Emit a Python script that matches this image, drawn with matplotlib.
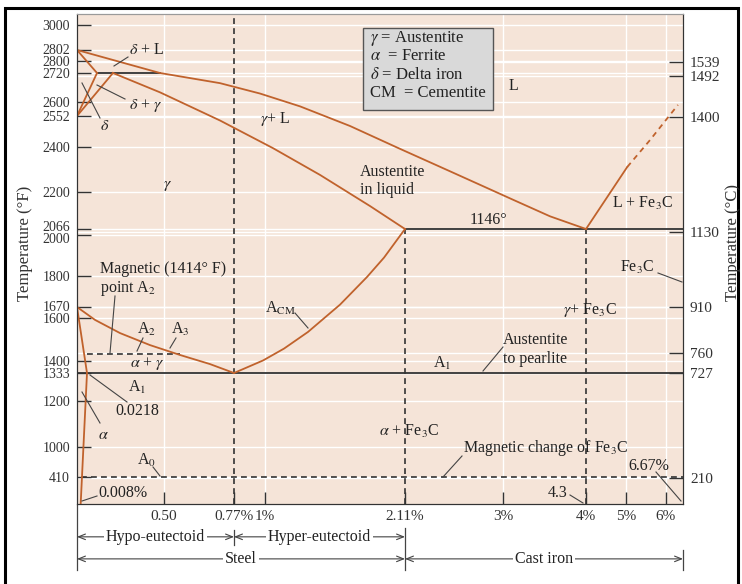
import numpy as np
import matplotlib
matplotlib.use('Agg')
import matplotlib.pyplot as plt
from matplotlib.lines import Line2D
from matplotlib.patches import Rectangle
from matplotlib.transforms import blended_transform_factory, ScaledTranslation

plt.rcParams['font.family'] = ['Liberation Serif', 'DejaVu Serif']
plt.rcParams['mathtext.fontset'] = 'stix'

W, H = 742, 584

# ---- axis ticks ----
F_TICKS = [3000, 2802, 2800, 2720, 2600, 2552, 2400, 2200, 2066, 2000,
           1800, 1670, 1600, 1400, 1333, 1200, 1000, 410]
C_TICKS = [1539, 1492, 1400, 1130, 910, 760, 727, 210]
X_TICKS = [0.5, 0.77, 1, 2.11, 3, 4.3, 5, 6]
X_LABELS = ['0.50', '0.77%', '1%', '2.11%', '3%', '4%', '5%', '6%']
X_GRID = [0.5, 1, 3, 5, 6]

# ---- phase boundaries (wt% C, deg F) ----
liq_c = [0, 0.475, 0.716, 0.963, 1.278, 1.674, 2.054, 2.519, 2.791, 3.157, 3.736, 4.3]
liq_f = [2802, 2720, 2678, 2635, 2585, 2503, 2396, 2292, 2232, 2172, 2112, 2066]
sol_c = [0.183, 0.475, 0.716, 1.063, 1.436, 1.833, 2.11]
sol_f = [2720, 2640, 2530, 2395, 2276, 2149, 2066]
delta_sol_c = [0, 0.084]
delta_sol_f = [2802, 2720]
delta_low_c = [0.084, 0]
delta_low_f = [2720, 2552]
gamma_top_c = [0.183, 0]
gamma_top_f = [2720, 2552]
peritectic_c = [0.084, 0.475]
peritectic_f = [2720, 2720]
a3_c = [0, 0.072, 0.227, 0.413, 0.562, 0.677, 0.77]
a3_f = [1670, 1590, 1522, 1460, 1412, 1383, 1333]
alpha_c = [0, 0.0218, 0.008]
alpha_f = [1670, 1333, 0]
acm_c = [0.77, 0.985, 1.151, 1.341, 1.595, 1.809, 1.944, 2.11]
acm_f = [1333, 1401, 1442, 1528, 1680, 1796, 1890, 2066]
fe3c_liq_c = [4.3, 5.03]
fe3c_liq_f = [2066, 2311]
fe3c_liq_dash_c = [5.03, 5.6, 6.47]
fe3c_liq_dash_f = [2311, 2434, 2590]
eutectic_c = [2.11, 6.67]
eutectic_f = 2066
eutectoid_c = [0, 6.67]
eutectoid_f = 1333
a2_c = [0.0218, 0.56]
a2_f = 1414
a0_c = [0.008, 6.67]
a0_f = 410
steel_c = 0.77
ledeb_c = [2.11, 4.3]

# schematic (non linear) scales of the printed diagram: value -> pixel row/column
XS_C = [0, 0.0218, 0.5, 0.77, 1, 2.11, 3, 4.3, 5, 6, 6.67]
XS_PX = [77, 87, 164, 234, 265, 405, 503, 586, 626, 666, 683]
YS_F = [0, 410, 1000, 1200, 1333, 1400, 1414, 1600, 1670, 1800, 2000, 2066,
        2200, 2400, 2552, 2600, 2720, 2800, 2802, 3000, 3100]
YS_PX = [504, 477, 447, 401, 373, 361, 354, 318, 307, 276, 235, 229,
         192, 147, 116, 102, 73, 61, 50, 25, 14]
F_MIN, F_MAX = 0, 3100
C_MIN, C_MAX = (F_MIN - 32) * 5 / 9, (F_MAX - 32) * 5 / 9
YS_C = [C_MIN, 210, 727, 760, 910, 1130, 1400, 1492, 1539, C_MAX]
YS_CPX = [504, 478, 373, 353, 307, 232, 117, 76, 62, 14]
# crowded left labels are nudged a little (pixels, up is +)
LABEL_NUDGE = {2802: 1, 1670: 1, 2066: 3, 2000: -3}


def fx(v):
    return np.interp(v, XS_C, XS_PX)


def fx_inv(v):
    return np.interp(v, XS_PX, XS_C)


def fy(v):
    return np.interp(v, YS_F, [H - p for p in YS_PX])


def fy_inv(v):
    return np.interp(v, [H - p for p in YS_PX], YS_F)


def fc(v):
    return np.interp(v, YS_C, [H - p for p in YS_CPX])


def fc_inv(v):
    return np.interp(v, [H - p for p in YS_CPX], YS_C)


ORANGE = '#c0622c'
DARK = '#333333'
BG = '#f5e4d8'

fig = plt.figure(figsize=(W / 100, H / 100), dpi=100)
ax = fig.add_axes([77 / W, 1 - 504 / H, (683 - 77) / W, (504 - 14) / H])
ax.set_xscale('function', functions=(fx, fx_inv))
ax.set_yscale('function', functions=(fy, fy_inv))
ax.set_xlim(0, 6.67)
ax.set_ylim(F_MIN, F_MAX)
ax.set_facecolor(BG)

ax2 = ax.twinx()
ax2.set_yscale('function', functions=(fc, fc_inv))
ax2.set_ylim(C_MIN, C_MAX)

# white grid (all drawn underneath the phase lines)
for x in X_GRID:
    ax.axvline(x, color='white', lw=1, zorder=1)
for t in F_TICKS:
    ax.axhline(t, color='white', lw=1, zorder=1)
c_tr = blended_transform_factory(ax.transAxes, ax2.transData)
for t in C_TICKS:
    ax.plot([0, 1], [t, t], transform=c_tr, color='white', lw=1, zorder=1)

# phase lines
for cs, fs in [(liq_c, liq_f), (sol_c, sol_f), (delta_sol_c, delta_sol_f),
               (delta_low_c, delta_low_f), (gamma_top_c, gamma_top_f),
               (a3_c, a3_f), (alpha_c, alpha_f), (acm_c, acm_f),
               (fe3c_liq_c, fe3c_liq_f)]:
    ax.plot(cs, fs, color=ORANGE, lw=1.3, zorder=3)
ax.plot(fe3c_liq_dash_c, fe3c_liq_dash_f, color=ORANGE, lw=1.3,
        ls=(0, (3, 2.5)), zorder=3)

ax.plot(peritectic_c, peritectic_f, color=DARK, lw=1.3, zorder=2)
ax.plot(eutectic_c, [eutectic_f] * 2, color=DARK, lw=1.3, zorder=2)
ax.plot(eutectoid_c, [eutectoid_f] * 2, color=DARK, lw=1.3, zorder=2)

dash = (0, (3.5, 2.5))
ax.plot([steel_c, steel_c], [F_MIN, F_MAX], color=DARK, lw=1.2, ls=dash, zorder=2)
for c in ledeb_c:
    ax.plot([c, c], [F_MIN, eutectic_f], color=DARK, lw=1.2, ls=dash, zorder=2)
ax.plot(a2_c, [a2_f] * 2, color=DARK, lw=1.2, ls=dash, zorder=2)
ax.plot(a0_c, [a0_f] * 2, color=DARK, lw=1.2, ls=dash, zorder=2)

# ticks & spines
ax.set_yticks(F_TICKS, labels=[str(t) for t in F_TICKS])
ax.set_xticks(X_TICKS, labels=X_LABELS)
ax.minorticks_off()
ax.tick_params(axis='y', direction='in', length=10, width=1, pad=5,
               labelsize=10, colors=DARK)
ax.tick_params(axis='x', direction='in', length=9, width=1, pad=4,
               labelsize=11, colors=DARK)
for t, lab in zip(F_TICKS, ax.get_yticklabels()):
    if t in LABEL_NUDGE:
        lab.set_transform(lab.get_transform() +
                          ScaledTranslation(0, LABEL_NUDGE[t] / 100, fig.dpi_scale_trans))
ax2.set_yticks(C_TICKS, labels=[str(c) for c in C_TICKS])
ax2.minorticks_off()
ax2.tick_params(axis='y', direction='in', length=10, width=1, pad=5,
                labelsize=11, colors=DARK)
for a in (ax, ax2):
    for s in ('left', 'bottom', 'right'):
        a.spines[s].set_color(DARK)
    a.spines['top'].set_color('#9a9a9a')

fig.text(25 / W, 1 - 243 / H, 'Temperature (°F)', rotation=90,
         ha='center', va='center', fontsize=12, color=DARK)
fig.text(733 / W, 1 - 243 / H, 'Temperature (°C)', rotation=90,
         ha='center', va='center', fontsize=12, color=DARK)


# ---- annotations (positioned in figure pixels) ----
def label(s, x, y, ha='center', size=11.5):
    fig.text(x / W, 1 - y / H, s, ha=ha, va='center', fontsize=size,
             color='#222222', zorder=5)


def leader(x0, y0, x1, y1):
    fig.add_artist(Line2D([x0 / W, x1 / W], [1 - y0 / H, 1 - y1 / H],
                          color='#444444', lw=0.8, zorder=5))


# legend box
fig.add_artist(Rectangle((363 / W, 1 - 110 / H), 130 / W, 82 / H,
                         transform=fig.transFigure, fc='#d9d9d9',
                         ec='#555555', lw=1, zorder=4))
label(r'$\gamma$ = Austentite', 370, 38, ha='left', size=12)
label(r'$\alpha$  = Ferrite', 370, 56, ha='left', size=12)
label(r'$\delta$ = Delta iron', 370, 75, ha='left', size=12)
label('CM  = Cementite', 370, 93, ha='left', size=12)

label(r'$\delta$ + L', 147, 50)
leader(114, 66, 128, 57)
label(r'$\delta$ + $\gamma$', 146, 106)
leader(97, 85, 125, 99)
label(r'$\delta$', 105, 126)
leader(82, 83, 100, 118)
label(r'$\gamma$+ L', 275, 119)
label(r'$\gamma$', 168, 185)
label('L', 513, 86)
label('Austentite', 360, 172, ha='left')
label('in liquid', 360, 190, ha='left')
label('1146°', 488, 220)
label(r'L + Fe$_3$C', 643, 203)
label(r'Fe$_3$C', 637, 267)
leader(658, 273, 682, 282)
label('Magnetic (1414° F)', 100, 269, ha='left')
label(r'point A$_2$', 100, 289, ha='left')
leader(115, 296, 110, 353)
label(r'A$_2$', 147, 329)
leader(143, 338, 137, 351)
label(r'A$_3$', 180, 329)
leader(176, 338, 170, 348)
label(r'$\alpha$ + $\gamma$', 147, 364)
label(r'A$_1$', 137, 387)
label('0.0218', 137, 411)
leader(90, 375, 127, 402)
label(r'$\alpha$', 103, 435)
leader(82, 392, 100, 423)
label(r'A$_0$', 147, 460)
leader(153, 467, 160, 476)
label('0.008%', 98, 493, ha='left')
leader(82, 501, 97, 496)
label(r'A$_{\rm CM}$', 280, 308)
leader(295, 313, 308, 328)
label(r'A$_1$', 442, 363)
label('Austentite', 503, 340, ha='left')
label('to pearlite', 503, 359, ha='left')
leader(503, 347, 483, 371)
label(r'$\alpha$ + Fe$_3$C', 409, 431)
label(r'$\gamma$+ Fe$_3$C', 590, 310)
label(r'Magnetic change of Fe$_3$C', 463, 448, ha='left')
leader(462, 456, 443, 477)
label('6.67%', 628, 466, ha='left')
leader(656, 472, 681, 501)
label('4.3', 548, 493, ha='left')
leader(570, 495, 583, 503)

# ---- composition ranges under the axis ----
xt = ax.get_xaxis_transform()


def span(c0, c1, yf, text):
    ax.annotate('', xy=(c0, yf), xytext=(c1, yf),
                xycoords=('data', 'axes fraction'),
                textcoords=('data', 'axes fraction'),
                arrowprops=dict(arrowstyle='<->,head_length=0.5,head_width=0.2',
                                lw=0.8, color='#444444', shrinkA=0, shrinkB=0),
                annotation_clip=False)
    mid = fx_inv((fx(c0) + fx(c1)) / 2)
    ax.text(mid, yf, text, transform=xt, ha='center', va='center',
            fontsize=11.5, color='#222222',
            bbox=dict(fc='white', ec='none', pad=1.5))


span(0, steel_c, -0.067, 'Hypo-eutectoid')
span(steel_c, 2.11, -0.067, 'Hyper-eutectoid')
span(0, 2.11, -0.112, 'Steel')
span(2.11, 6.67, -0.112, 'Cast iron')
for c, y0, y1 in [(0, -0.002, -0.135), (2.11, -0.049, -0.135),
                  (6.67, -0.094, -0.135), (steel_c, -0.053, -0.084)]:
    ax.plot([c, c], [y0, y1], transform=xt, color='#444444', lw=0.9,
            clip_on=False)

# outer frame of the figure
fig.add_artist(Rectangle((5 / W, -0.1), 733 / W, 1.1 - 8 / H,
                         transform=fig.transFigure, fill=False,
                         ec='black', lw=2.2))

fig.savefig('out.png', dpi=100)
